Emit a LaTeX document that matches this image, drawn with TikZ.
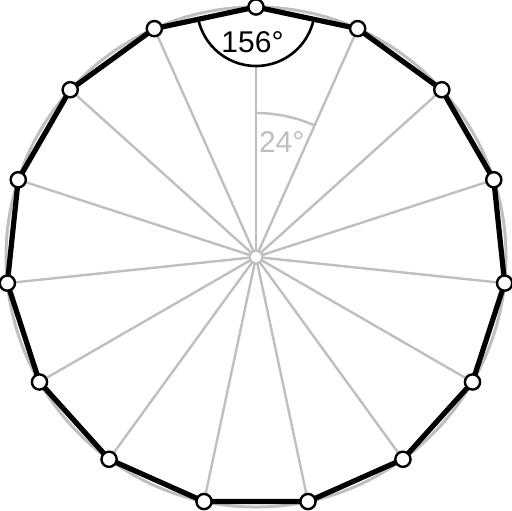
\documentclass[tikz,border=0pt]{standalone}
\usepackage{fontspec}
\setmainfont{Liberation Sans}
\begin{document}
\begin{tikzpicture}[x=0.5pt,y=0.5pt,
  vert/.style={circle,draw=black,fill=white,line width=1.2pt,inner sep=0pt,minimum size=7.6pt},
  ctr/.style={circle,draw=gray!50,fill=white,line width=1.2pt,inner sep=0pt,minimum size=6.4pt},
  spoke/.style={draw=gray!50,line width=1.2pt},
  edge/.style={draw=black,line width=2.6pt,line join=round},
  lbl/.style={font=\fontsize{15pt}{16pt}\selectfont,inner sep=0pt}]
\useasboundingbox (-256,-253) rectangle (256,257);
\fill[white] (-256,-253) rectangle (256,257);
\coordinate (o) at (0,0);
\foreach \k in {0,...,14}{
  \coordinate (p\k) at ({90-24*\k}:250);
}
\draw[spoke,line width=1.5pt] (o) circle[radius=250];
\foreach \k in {0,...,14}{
  \draw[spoke] (o) -- (p\k);
}
\draw[spoke] (90:144) arc[start angle=90,end angle=66,radius=144];
\node[lbl,text=gray!50] (a24) at (25.7,115) {24°};
\fill[white] (p0) -- ++(192:59) arc[start angle=192,end angle=348,radius=59] -- cycle;
\draw[black,line width=1.3pt] (p0) ++(192:59) arc[start angle=192,end angle=348,radius=59];
\node[lbl] (a156) at (-3.5,215) {156°};
\draw[edge] (p0) -- (p1) -- (p2) -- (p3) -- (p4) -- (p5) -- (p6) -- (p7) -- (p8) -- (p9) -- (p10) -- (p11) -- (p12) -- (p13) -- (p14) -- cycle;
\foreach \k in {0,...,14}{
  \node[vert] (v\k) at (p\k) {};
}
\node[ctr] (c) at (o) {};
\end{tikzpicture}
\end{document}
